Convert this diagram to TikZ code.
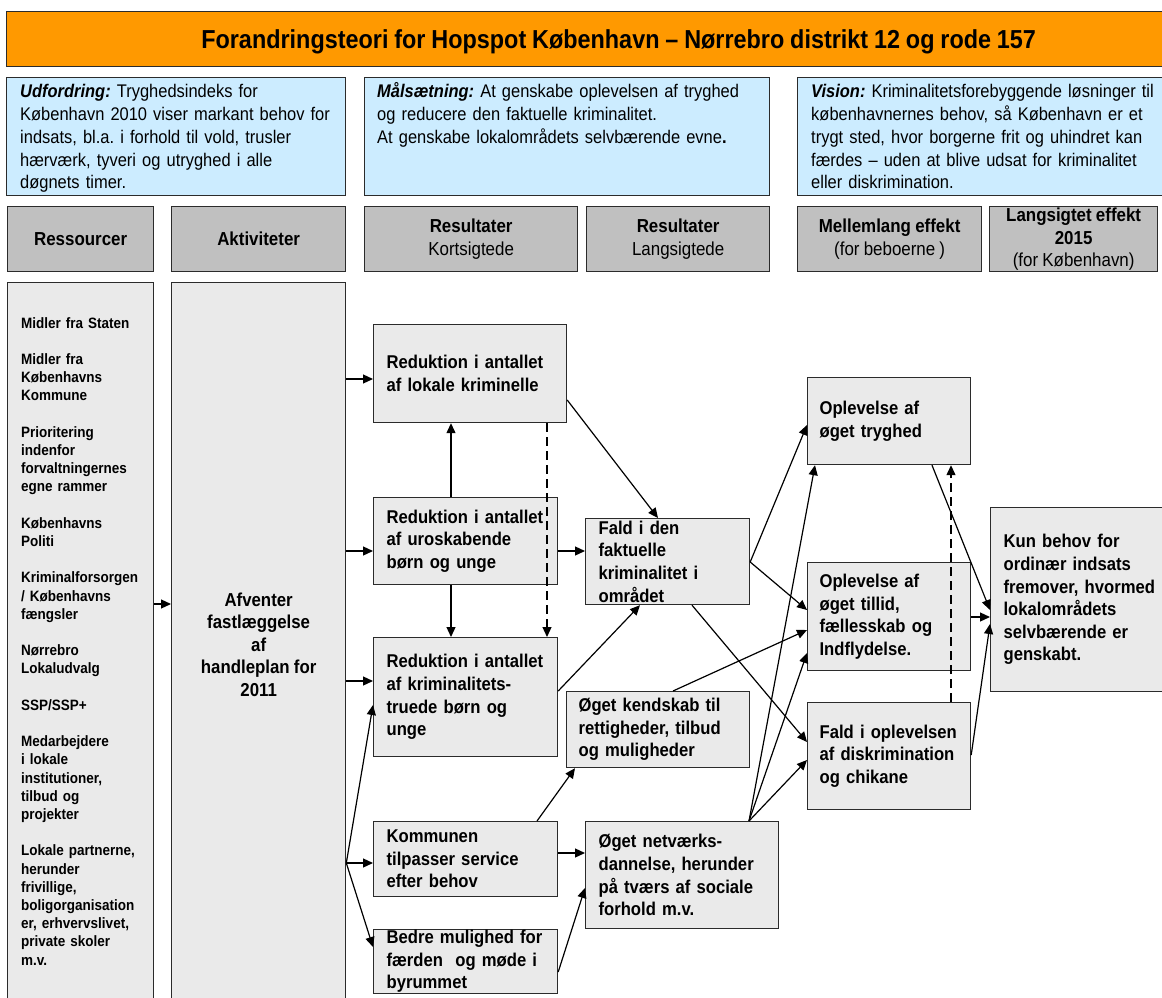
\documentclass[tikz,border=0pt]{standalone}
\usepackage{fontspec}
\setmainfont{Liberation Sans}[FakeStretch=0.9, WordSpace=0.9]
\frenchspacing
\hyphenpenalty=10000
\usetikzlibrary{arrows.meta,calc}
\definecolor{titleorange}{HTML}{FF9900}
\definecolor{skyblue}{HTML}{CCECFF}
\definecolor{headgray}{HTML}{C0C0C0}
\definecolor{boxgray}{HTML}{EAEAEA}
\definecolor{edge}{HTML}{2B2B2B}
\tikzset{
  frame/.style={draw=edge, line width=1.3pt, anchor=north west, inner sep=0pt},
  titlebox/.style={frame, fill=titleorange, font=\bfseries\fontsize{26}{30}\selectfont},
  bluebox/.style={frame, fill=skyblue},
  bluetext/.style={anchor=base west, inner sep=0pt, align=left, font=\fontsize{18.3}{23}\selectfont},
  headbox/.style={frame, fill=headgray, align=center, font=\fontsize{18.8}{22.6}\selectfont},
  colbox/.style={frame, fill=boxgray},
  listtext/.style={anchor=base west, inner sep=0pt, text width=132pt, align=left, font=\bfseries\fontsize{15}{18.2}\selectfont},
  effbox/.style={frame, fill=boxgray, line width=1.2pt, inner xsep=13pt, align=left, font=\bfseries\fontsize{18.5}{22.6}\selectfont},
  arr/.style={-{Triangle[length=10pt,width=9pt]}, line width=1.2pt, black},
  dasharr/.style={arr, dash pattern=on 9pt off 5pt},
}
\begin{document}
\begin{tikzpicture}[x=1pt, y=-1pt]
\useasboundingbox (0,0) rectangle (1162,998);
\clip (0,0) rectangle (1162,998);
%title
    \node[titlebox, minimum width=1224pt, minimum height=55pt, text depth=0pt] (title) at (6,11) {Forandringsteori for Hopspot København – Nørrebro distrikt 12 og rode 157};
%challenge, goal, vision
    \node[bluebox, minimum width=339pt, minimum height=118pt] (chal) at (6,77) {};
    \node[bluebox, minimum width=405pt, minimum height=118pt] (goal) at (364,77) {};
    \node[bluebox, minimum width=420pt, minimum height=118pt] (vision) at (797,77) {};
    \node[bluetext, text width=330pt] (chaltext) at (20,97) {\textbf{\textit{Udfordring:}} Tryghedsindeks for\\København 2010 viser markant behov for\\indsats, bl.a. i forhold til vold, trusler\\hærværk, tyveri og utryghed i alle\\døgnets timer.};
    \node[bluetext, text width=390pt] (goaltext) at (377,97) {\textbf{\textit{Målsætning:}} At genskabe oplevelsen af tryghed\\og reducere den faktuelle kriminalitet.\\At genskabe lokalområdets selvbærende evne\textbf{.}};
    \node[bluetext, text width=390pt] (visiontext) at (811,97) {\textbf{\textit{Vision:}} Kriminalitetsforebyggende løsninger til\\københavnernes behov, så København er et\\trygt sted, hvor borgerne frit og uhindret kan\\færdes – uden at blive udsat for kriminalitet\\eller diskrimination.};
%headers
    \node[headbox, minimum width=146pt, minimum height=65pt] (hres) at (7,206) {\textbf{Ressourcer}};
    \node[headbox, minimum width=174pt, minimum height=65pt] (hact) at (171,206) {\textbf{Aktiviteter}};
    \node[headbox, minimum width=213pt, minimum height=65pt] (hshort) at (364,206) {\textbf{Resultater}\\Kortsigtede};
    \node[headbox, minimum width=183pt, minimum height=65pt] (hlong) at (586,206) {\textbf{Resultater}\\Langsigtede};
    \node[headbox, minimum width=184pt, minimum height=65pt] (hmid) at (797,206) {\textbf{Mellemlang effekt}\\(for beboerne )};
    \node[headbox, minimum width=168pt, minimum height=65pt] (hlast) at (989,206) {\textbf{Langsigtet effekt}\\\textbf{2015}\\(for København)};
%columns
    \node[colbox, minimum width=146pt, minimum height=730pt] (res) at (7,282) {};
    \node[colbox, minimum width=174pt, minimum height=724pt, align=center, font=\bfseries\fontsize{18.7}{22.6}\selectfont] (act) at (171,282) {Afventer\\fastlæggelse\\af\\handleplan for\\2011};
    \node[listtext] (reslist) at (21,328) {Midler fra Staten\\[18.2pt]
      Midler fra\\Københavns\\Kommune\\[18.2pt]
      Prioritering\\indenfor\\forvaltningernes\\egne rammer\\[18.2pt]
      Københavns\\Politi\\[18.2pt]
      Kriminalforsorgen\\/ Københavns\\fængsler\\[18.2pt]
      Nørrebro\\Lokaludvalg\\[18.2pt]
      SSP/SSP+\\[18.2pt]
      Medarbejdere\\i lokale\\institutioner,\\tilbud og\\projekter\\[18.2pt]
      Lokale partnerne,\\herunder\\frivillige,\\boligorganisation\\er, erhvervslivet,\\private skoler\\m.v.};
%short term results
    \node[effbox, text width=167pt, minimum height=98pt] (k1) at (373,324) {Reduktion i antallet\\af lokale kriminelle};
    \node[effbox, text width=158pt, minimum height=87pt] (k2) at (373,497) {Reduktion i antallet\\af uroskabende\\børn og unge};
    \node[effbox, text width=158pt, minimum height=119pt] (k3) at (373,637) {Reduktion i antallet\\af kriminalitets-\\truede børn og\\unge};
    \node[effbox, text width=158pt, minimum height=75pt] (k4) at (373,821) {Kommunen\\tilpasser service\\efter behov};
    \node[effbox, text width=158pt, minimum height=64pt] (k5) at (373,929) {Bedre mulighed for\\færden\ \ og møde i\\byrummet};
%long term results
    \node[effbox, text width=138pt, minimum height=86pt] (l1) at (585,518) {Fald i den\\faktuelle\\kriminalitet i\\området};
    \node[effbox, inner xsep=12pt, text width=159pt, minimum height=76pt] (l2) at (566,691) {Øget kendskab til\\rettigheder, tilbud\\og muligheder};
    \node[effbox, text width=167pt, minimum height=107pt] (l3) at (585,821) {Øget netværks-\\dannelse, herunder\\på tværs af sociale\\forhold m.v.};
%medium term effect
    \node[effbox, inner xsep=12pt, text width=139pt, minimum height=87pt] (m1) at (807,377) {Oplevelse af\\øget tryghed};
    \node[effbox, inner xsep=12pt, text width=139pt, minimum height=108pt] (m2) at (807,562) {Oplevelse af\\øget tillid,\\fællesskab og\\Indflydelse.};
    \node[effbox, inner xsep=12pt, text width=139pt, minimum height=107pt] (m3) at (807,702) {Fald i oplevelsen\\af diskrimination\\og chikane};
%long term effect
    \node[effbox, text width=170pt, minimum height=184pt] (e1) at (990,507) {Kun behov for\\ordinær indsats\\fremover, hvormed\\lokalområdets\\selvbærende er\\genskabt.};
%arrows
    \coordinate (fan) at ($(act.north east)+(0,581)$); \coordinate (hub) at ($(l3.north west)+(164,0)$);
    \draw[arr] ($(res.north east)+(0,322)$) -- ($(act.north west)+(0,322)$);
    \draw[arr] ($(act.north east)+(0,97)$) -- ($(k1.north west)+(0,55)$);
    \draw[arr] ($(act.north east)+(0,269)$) -- ($(k2.north west)+(0,54)$);
    \draw[arr] ($(act.north east)+(0,399)$) -- ($(k3.north west)+(0,44)$);
    \draw[arr] (fan) -- ($(k4.north west)+(0,42)$); \draw[arr] (fan) -- ($(k3.north west)+(0,68)$);
    \draw[arr] (fan) -- ($(k5.north west)+(0,18)$);
    \draw[arr] ($(k2.north west)+(78,0)$) -- ($(k1.south west)+(78,0)$);
    \draw[arr] ($(k2.south west)+(78,0)$) -- ($(k3.north west)+(78,0)$);
    \draw[dasharr] ($(k1.south west)+(174,0)$) -- ($(k3.north west)+(174,0)$);
    \draw[arr] ($(k2.north east)+(0,54)$) -- ($(l1.north west)+(0,33)$);
    \draw[arr] ($(k1.north east)+(0,76)$) -- ($(l1.north west)+(73,0)$);
    \draw[arr] ($(k3.north east)+(0,54)$) -- ($(l1.south west)+(55,0)$);
    \draw[arr] ($(k4.north west)+(164,0)$) -- ($(l2.south west)+(9,0)$);
    \draw[arr] ($(k4.north east)+(0,32)$) -- ($(l3.north west)+(0,32)$);
    \draw[arr] ($(k5.north east)+(0,43)$) -- ($(l3.north west)+(0,67)$);
    \draw[arr] ($(l1.north east)+(0,44)$) -- ($(m1.north west)+(0,48)$);
    \draw[arr] ($(l1.north east)+(0,44)$) -- ($(m2.north west)+(0,48)$);
    \draw[arr] ($(l1.south west)+(107,0)$) -- ($(m3.north west)+(0,40)$);
    \draw[arr] ($(l2.north west)+(107,0)$) -- ($(m2.north west)+(0,68)$);
    \draw[arr] (hub) -- ($(m1.south west)+(8,0)$); \draw[arr] (hub) -- ($(m2.north west)+(0,91)$);
    \draw[arr] (hub) -- ($(m3.north west)+(0,58)$);
    \draw[arr] ($(m1.south west)+(125,0)$) -- ($(e1.north west)+(0,103)$);
    \draw[arr] ($(m2.north east)+(0,55)$) -- ($(e1.north west)+(0,110)$);
    \draw[arr] ($(m3.north east)+(0,53)$) -- ($(e1.north west)+(0,117)$);
    \draw[dasharr] ($(m3.north west)+(144,0)$) -- ($(m1.south west)+(144,0)$);
\end{tikzpicture}
\end{document}
